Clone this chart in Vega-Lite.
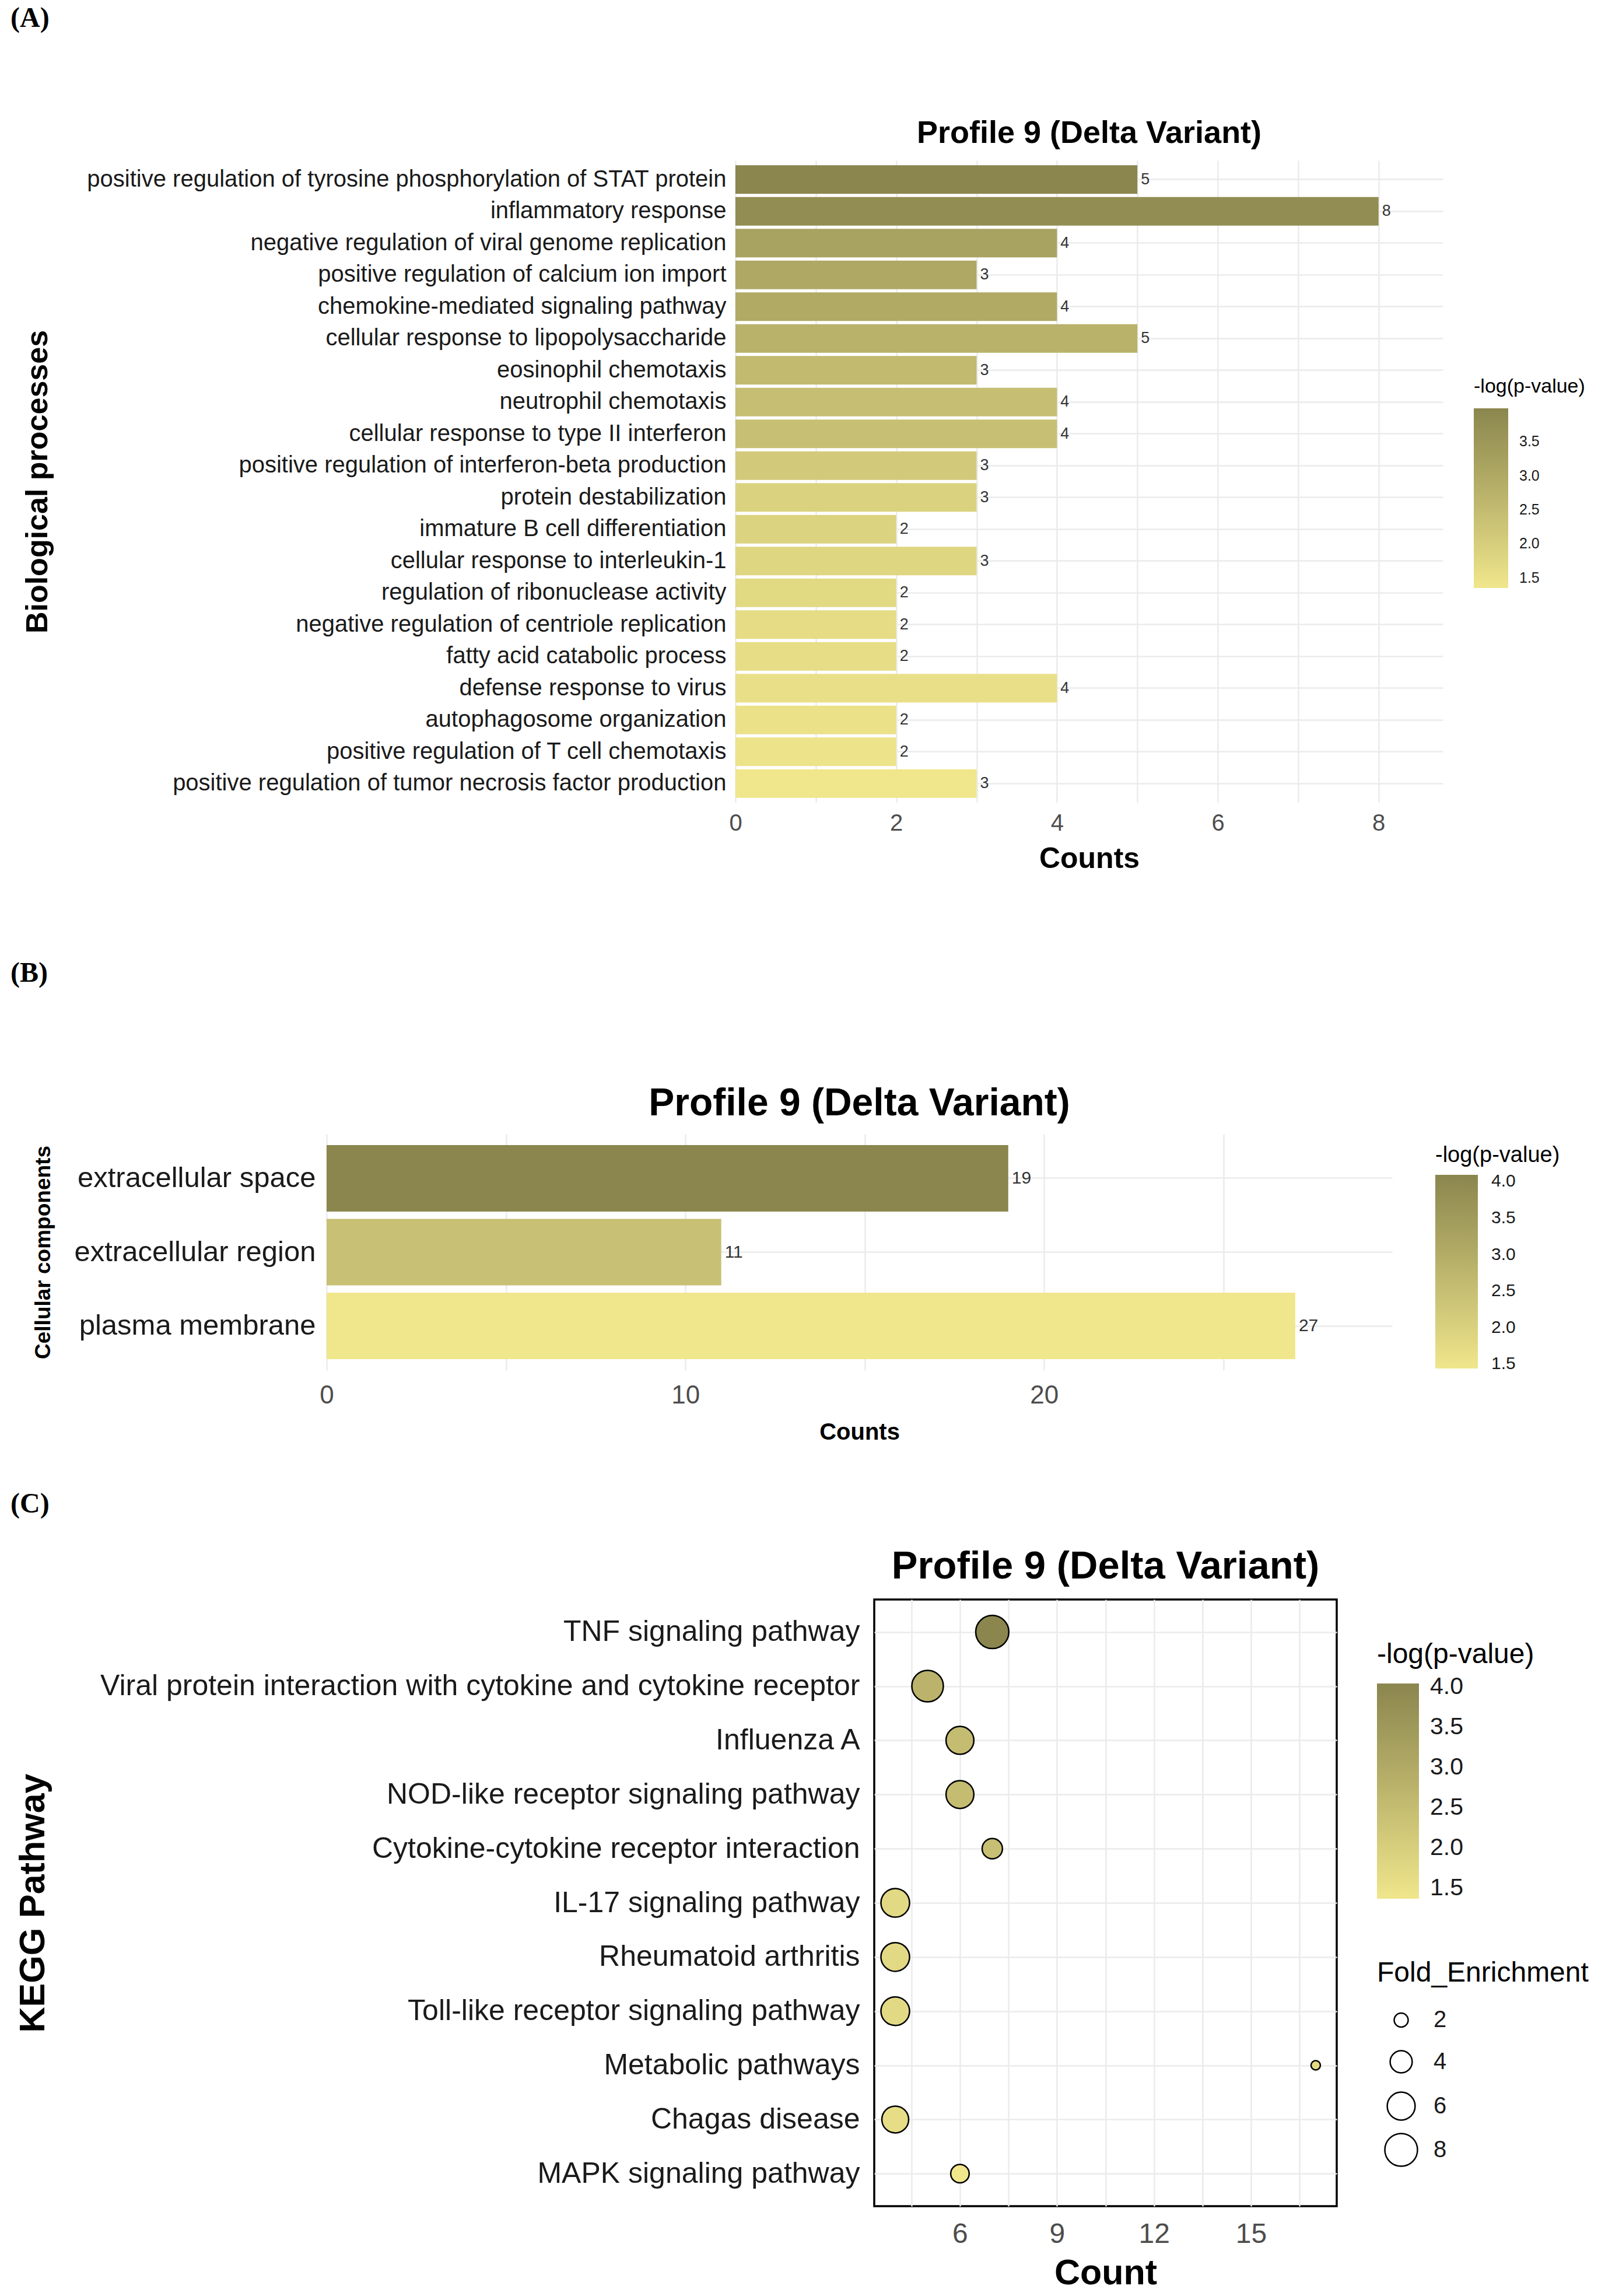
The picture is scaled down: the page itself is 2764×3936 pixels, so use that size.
{
  "$schema": "https://vega.github.io/schema/vega-lite/v6.json",
  "background": "white",
  "padding": {"left": 18, "top": 8, "right": 10, "bottom": 8},
  "config": {
    "font": "Liberation Sans",
    "view": {"stroke": null},
    "axis": {"domain": false, "ticks": false, "gridColor": "#EBEBEB", "gridWidth": 2.5, "titleColor": "#000000", "titleFontWeight": "bold", "labelOverlap": false, "labelFlush": false, "labelFont": "Liberation Sans", "titleFont": "Liberation Sans"},
    "legend": {"orient": "none", "direction": "vertical", "padding": 0, "titleFontWeight": "normal", "titleColor": "#000000", "labelColor": "#1A1A1A", "gradientStrokeWidth": 0, "labelOverlap": false, "titleAlign": "left", "titleAnchor": "start", "titleLimit": 1000, "labelLimit": 500, "titleFont": "Liberation Sans", "labelFont": "Liberation Sans"},
    "title": {"color": "#000000", "fontWeight": "bold", "font": "Liberation Sans"}
  },
  "columns": 1,
  "align": "none",
  "spacing": 148,
  "resolve": {"scale": {"fill": "independent", "size": "independent"}, "legend": {"fill": "independent", "size": "independent"}},
  "concat": [
    {
      "title": {"text": "(A)", "anchor": "start", "font": "Liberation Serif", "fontSize": 48, "fontWeight": "bold", "offset": 146},
      "spacing": 0,
      "resolve": {"scale": {"fill": "independent", "size": "independent"}, "legend": {"fill": "independent", "size": "independent"}},
      "hconcat": [
        {"width": 20, "height": 10, "data": {"values": []}, "mark": "point"},
        {
          "width": 1213,
          "height": 1101,
          "title": {"text": "Profile 9 (Delta Variant)", "anchor": "middle", "frame": "group", "fontSize": 54, "offset": 19},
          "data": {"values": [
            {"term": "positive regulation of tyrosine phosphorylation of STAT protein", "count": 5, "logp": 3.99},
            {"term": "inflammatory response", "count": 8, "logp": 3.8},
            {"term": "negative regulation of viral genome replication", "count": 4, "logp": 3.17},
            {"term": "positive regulation of calcium ion import", "count": 3, "logp": 3.02},
            {"term": "chemokine-mediated signaling pathway", "count": 4, "logp": 2.97},
            {"term": "cellular response to lipopolysaccharide", "count": 5, "logp": 2.76},
            {"term": "eosinophil chemotaxis", "count": 3, "logp": 2.54},
            {"term": "neutrophil chemotaxis", "count": 4, "logp": 2.41},
            {"term": "cellular response to type II interferon", "count": 4, "logp": 2.4},
            {"term": "positive regulation of interferon-beta production", "count": 3, "logp": 2.1},
            {"term": "protein destabilization", "count": 3, "logp": 1.88},
            {"term": "immature B cell differentiation", "count": 2, "logp": 1.85},
            {"term": "cellular response to interleukin-1", "count": 3, "logp": 1.78},
            {"term": "regulation of ribonuclease activity", "count": 2, "logp": 1.7},
            {"term": "negative regulation of centriole replication", "count": 2, "logp": 1.62},
            {"term": "fatty acid catabolic process", "count": 2, "logp": 1.58},
            {"term": "defense response to virus", "count": 4, "logp": 1.53},
            {"term": "autophagosome organization", "count": 2, "logp": 1.48},
            {"term": "positive regulation of T cell chemotaxis", "count": 2, "logp": 1.42},
            {"term": "positive regulation of tumor necrosis factor production", "count": 3, "logp": 1.35}
          ]},
          "encoding": {
            "y": {"field": "term", "type": "nominal", "sort": null, "scale": {"paddingInner": 0.1, "paddingOuter": 0.15},
              "axis": {"title": "Biological processes", "titleFontSize": 52, "titlePadding": 20, "labelFontSize": 40, "labelColor": "#1A1A1A", "labelPadding": 16, "labelLimit": 1300, "minExtent": 1150, "maxExtent": 1150, "grid": true, "bandPosition": 0.5}},
            "x": {"field": "count", "type": "quantitative", "title": "Counts", "scale": {"domain": [0, 8.8], "nice": false, "zero": false},
              "axis": {"values": [0, 1, 2, 3, 4, 5, 6, 7, 8], "labelExpr": "datum.value % 2 === 0 ? datum.label : ''", "labelFontSize": 40, "labelColor": "#4D4D4D", "labelPadding": 15, "titleFontSize": 50, "titlePadding": 16, "grid": true}}
          },
          "layer": [
            {
              "mark": {"type": "bar"},
              "encoding": {
                "fill": {"field": "logp", "type": "quantitative",
                  "scale": {"domain": [1.35, 3.99], "range": ["#F0E68C", "#8B864E"], "interpolate": "lab"},
                  "legend": {"title": "-log(p-value)", "legendX": 1266, "legendY": 371, "gradientLength": 308, "gradientThickness": 59, "titleFontSize": 34, "titlePadding": 20, "labelFontSize": 25, "labelOffset": 19, "values": [1.5, 2, 2.5, 3, 3.5], "format": ".1f"}}
              }
            },
            {
              "mark": {"type": "text", "align": "left", "baseline": "middle", "dx": 6, "fontSize": 27, "color": "#333333"},
              "encoding": {"text": {"field": "count", "type": "quantitative"}}
            }
          ]
        }
      ]
    },
    {
      "columns": 1,
      "align": "none",
      "spacing": 80,
      "resolve": {"scale": {"fill": "independent", "size": "independent"}, "legend": {"fill": "independent", "size": "independent"}},
      "concat": [
        {
          "title": {"text": "(B)", "anchor": "start", "font": "Liberation Serif", "fontSize": 48, "fontWeight": "bold", "offset": 166},
          "spacing": 0,
          "resolve": {"scale": {"fill": "independent", "size": "independent"}, "legend": {"fill": "independent", "size": "independent"}},
          "hconcat": [
            {"width": 37, "height": 10, "data": {"values": []}, "mark": "point"},
            {
              "width": 1827,
              "height": 405,
              "title": {"text": "Profile 9 (Delta Variant)", "anchor": "middle", "frame": "group", "fontSize": 66, "offset": 18},
              "data": {"values": [
                {"component": "extracellular space", "count": 19, "logp": 4.09},
                {"component": "extracellular region", "count": 11, "logp": 2.45},
                {"component": "plasma membrane", "count": 27, "logp": 1.44}
              ]},
              "encoding": {
                "y": {"field": "component", "type": "nominal", "sort": null, "scale": {"paddingInner": 0.1, "paddingOuter": 0.15},
                  "axis": {"title": "Cellular components", "titleFontSize": 37, "titlePadding": 22, "labelFontSize": 49, "labelColor": "#1A1A1A", "labelPadding": 19, "labelLimit": 600, "minExtent": 445, "maxExtent": 445, "grid": true, "bandPosition": 0.5}},
                "x": {"field": "count", "type": "quantitative", "title": "Counts", "scale": {"domain": [0, 29.7], "nice": false, "zero": false},
                  "axis": {"values": [0, 5, 10, 15, 20, 25], "labelExpr": "datum.value % 10 === 0 ? datum.label : ''", "labelFontSize": 44, "labelColor": "#4D4D4D", "labelPadding": 21, "titleFontSize": 40, "titlePadding": 21, "grid": true}}
              },
              "layer": [
                {
                  "mark": {"type": "bar"},
                  "encoding": {
                    "fill": {"field": "logp", "type": "quantitative",
                      "scale": {"domain": [1.44, 4.09], "range": ["#F0E68C", "#8B864E"], "interpolate": "lab"},
                      "legend": {"title": "-log(p-value)", "legendX": 1901, "legendY": 18, "gradientLength": 332, "gradientThickness": 73, "titleFontSize": 38, "titlePadding": 14, "labelFontSize": 30, "labelOffset": 23, "values": [1.5, 2, 2.5, 3, 3.5, 4], "format": ".1f"}}
                  }
                },
                {
                  "mark": {"type": "text", "align": "left", "baseline": "middle", "dx": 6, "fontSize": 30, "color": "#333333"},
                  "encoding": {"text": {"field": "count", "type": "quantitative"}}
                }
              ]
            }
          ]
        },
        {
          "title": {"text": "(C)", "anchor": "start", "font": "Liberation Serif", "fontSize": 48, "fontWeight": "bold", "offset": 47},
          "spacing": 0,
          "resolve": {"scale": {"fill": "independent", "size": "independent"}, "legend": {"fill": "independent", "size": "independent"}},
          "hconcat": [
            {"width": 6, "height": 10, "data": {"values": []}, "mark": "point"},
            {
              "width": 793,
              "height": 1040,
              "view": {"stroke": "#000000", "strokeWidth": 3.5},
              "title": {"text": "Profile 9 (Delta Variant)", "anchor": "middle", "frame": "group", "fontSize": 67, "offset": 22},
              "data": {"values": [
                {"pathway": "TNF signaling pathway", "count": 7, "fe": 8.2, "logp": 4.04},
                {"pathway": "Viral protein interaction with cytokine and cytokine receptor", "count": 5, "fe": 7.5, "logp": 2.75},
                {"pathway": "Influenza A", "count": 6, "fe": 6.0, "logp": 2.5},
                {"pathway": "NOD-like receptor signaling pathway", "count": 6, "fe": 6.0, "logp": 2.5},
                {"pathway": "Cytokine-cytokine receptor interaction", "count": 7, "fe": 3.5, "logp": 2.42},
                {"pathway": "IL-17 signaling pathway", "count": 4, "fe": 6.3, "logp": 1.72},
                {"pathway": "Rheumatoid arthritis", "count": 4, "fe": 6.3, "logp": 1.72},
                {"pathway": "Toll-like receptor signaling pathway", "count": 4, "fe": 6.3, "logp": 1.72},
                {"pathway": "Metabolic pathways", "count": 17, "fe": 1.25, "logp": 1.68},
                {"pathway": "Chagas disease", "count": 4, "fe": 5.6, "logp": 1.62},
                {"pathway": "MAPK signaling pathway", "count": 6, "fe": 3.0, "logp": 1.37}
              ]},
              "mark": {"type": "circle", "stroke": "#000000", "strokeWidth": 2.5, "opacity": 1},
              "encoding": {
                "y": {"field": "pathway", "type": "nominal", "sort": null, "scale": {"type": "point", "padding": 0.6},
                  "axis": {"title": "KEGG Pathway", "titleFontSize": 61, "titlePadding": 21, "labelFontSize": 50, "labelColor": "#1A1A1A", "labelPadding": 25, "labelLimit": 1500, "minExtent": 1390, "maxExtent": 1390, "grid": true}},
                "x": {"field": "count", "type": "quantitative", "title": "Count", "scale": {"domain": [3.35, 17.65], "nice": false, "zero": false},
                  "axis": {"values": [4.5, 6, 7.5, 9, 10.5, 12, 13.5, 15, 16.5], "labelExpr": "datum.value % 3 === 0 ? datum.label : ''", "labelFontSize": 48, "labelColor": "#4D4D4D", "labelPadding": 24, "titleFontSize": 61, "titlePadding": 13, "grid": true}},
                "fill": {"field": "logp", "type": "quantitative",
                  "scale": {"domain": [1.37, 4.04], "range": ["#F0E68C", "#8B864E"], "interpolate": "lab"},
                  "legend": {"title": "-log(p-value)", "legendX": 862, "legendY": 71, "gradientLength": 369, "gradientThickness": 72, "titleFontSize": 48, "titlePadding": 25, "labelFontSize": 41, "labelOffset": 19, "values": [1.5, 2, 2.5, 3, 3.5, 4], "format": ".1f"}},
                "size": {"field": "fe", "type": "quantitative", "title": "Fold_Enrichment",
                  "scale": {"domain": [1.25, 8.2], "range": [256, 3221]},
                  "legend": {"legendX": 862, "legendY": 617, "values": [2, 4, 6, 8], "gridAlign": "all", "titleFontSize": 48, "titlePadding": 36, "labelFontSize": 40, "labelOffset": 26, "symbolOffset": 12, "rowPadding": 4, "symbolType": "circle", "symbolStrokeColor": "#000000", "symbolStrokeWidth": 2.5, "symbolFillColor": "#FFFFFF", "symbolOpacity": 1}}
              }
            }
          ]
        }
      ]
    }
  ]
}
